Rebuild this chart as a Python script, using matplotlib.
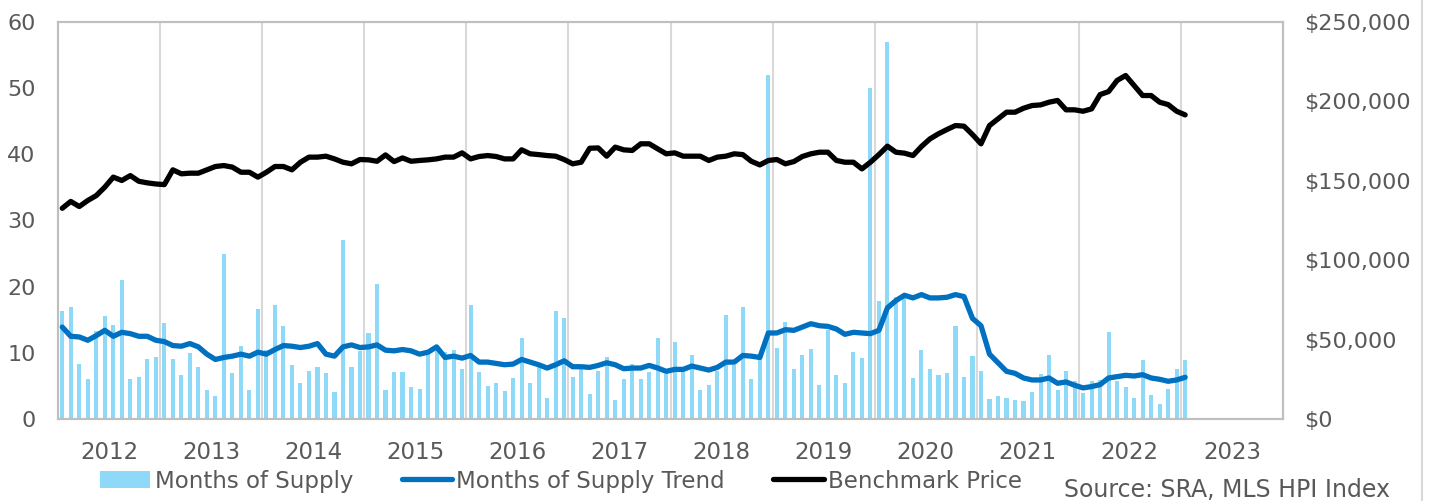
import numpy as np
import pandas as pd
import matplotlib
matplotlib.use("Agg")
import matplotlib.pyplot as plt
from matplotlib.lines import Line2D
from matplotlib.ticker import FuncFormatter

# monthly data, Jan 2012 .. Jan 2023
months = pd.date_range("2012-01-01", "2023-01-01", freq="MS")
year_labels = [str(y) for y in range(2012, 2024)]

supply = [16.3, 17.0, 8.3, 6.1, 13.3, 15.5, 14.2, 21.0, 6.1, 6.4, 9.0, 9.3,
          14.5, 9.1, 6.6, 9.9, 7.8, 4.4, 3.5, 24.9, 7.0, 11.0, 4.4, 16.6,
          10.5, 17.3, 14.0, 8.1, 5.4, 7.2, 7.8, 7.0, 4.1, 27.0, 7.8, 10.3,
          13.0, 20.4, 4.4, 7.1, 7.1, 4.8, 4.5, 9.8, 10.4, 10.1, 10.5, 7.6,
          17.3, 7.1, 5.0, 5.5, 4.3, 6.2, 12.3, 5.5, 8.1, 3.1, 16.3, 15.3,
          6.4, 7.8, 3.8, 7.3, 9.4, 2.8, 6.1, 8.3, 6.0, 7.1, 12.2, 6.8,
          11.7, 7.1, 9.7, 4.4, 5.2, 7.3, 15.7, 8.2, 17.0, 6.1, 9.8, 52.0,
          10.7, 14.6, 7.6, 9.6, 10.6, 5.2, 13.5, 6.7, 5.5, 10.1, 9.2, 50.0,
          17.9, 57.0, 18.5, 18.4, 6.2, 10.5, 7.5, 6.6, 7.0, 14.1, 6.3, 9.5,
          7.2, 3.0, 3.5, 3.1, 2.9, 2.7, 4.1, 6.8, 9.7, 4.4, 7.3, 5.8,
          3.9, 5.7, 5.9, 13.2, 5.7, 4.8, 3.2, 8.9, 3.6, 2.2, 4.6, 7.6,
          8.9]

trend = [13.9, 12.5, 12.4, 11.9, 12.6, 13.4, 12.5, 13.1, 12.9, 12.5, 12.5, 11.9,
         11.7, 11.1, 11.0, 11.4, 10.9, 9.8, 9.0, 9.3, 9.5, 9.8, 9.5, 10.1,
         9.8, 10.5, 11.1, 11.0, 10.8, 11.0, 11.4, 9.8, 9.5, 10.9, 11.2, 10.8,
         10.9, 11.2, 10.4, 10.3, 10.5, 10.3, 9.8, 10.1, 10.9, 9.3, 9.5, 9.2,
         9.6, 8.6, 8.6, 8.4, 8.2, 8.3, 9.0, 8.6, 8.2, 7.7, 8.2, 8.8,
         7.9, 7.9, 7.8, 8.1, 8.5, 8.2, 7.6, 7.7, 7.7, 8.1, 7.7, 7.2,
         7.5, 7.5, 8.0, 7.7, 7.4, 7.8, 8.6, 8.6, 9.6, 9.5, 9.3, 13.0,
         13.0, 13.5, 13.4, 13.9, 14.4, 14.1, 14.0, 13.6, 12.8, 13.1, 13.0, 12.9,
         13.4, 16.8, 17.9, 18.7, 18.3, 18.8, 18.3, 18.3, 18.4, 18.8, 18.5, 15.2,
         14.1, 9.8, 8.5, 7.2, 6.9, 6.2, 5.9, 5.9, 6.2, 5.4, 5.6, 5.1,
         4.7, 4.9, 5.2, 6.2, 6.4, 6.6, 6.5, 6.7, 6.2, 6.0, 5.7, 5.9,
         6.3]

price = [132700, 137000, 133800, 137600, 140700, 146000, 152300, 150200, 153300, 149700, 148700, 148000,
         147600, 156900, 154400, 154800, 154800, 156900, 159000, 159600, 158600, 155400, 155400, 152300,
         155400, 159000, 159000, 156900, 161700, 164900, 164900, 165500, 163800, 161700, 160700, 163400,
         163200, 162300, 166300, 162100, 164400, 162300, 162800, 163200, 163800, 164900, 164900, 167600,
         163800, 165300, 165900, 165300, 163800, 163800, 169500, 167000, 166500, 165900, 165500, 163400,
         160700, 161700, 170500, 170700, 165500, 171200, 169500, 169100, 173300, 173300, 170100, 167000,
         167600, 165500, 165500, 165500, 162800, 164900, 165500, 167000, 166500, 162300, 160000, 162800,
         163400, 160700, 162100, 165300, 167000, 168000, 168000, 162800, 161700, 161700, 157500, 161700,
         166500, 171800, 168000, 167400, 165900, 171600, 176400, 179600, 182300, 184800, 184400, 179100,
         173300, 184800, 189000, 193200, 193200, 195700, 197400, 197800, 199500, 200600, 194700, 194700,
         193800, 195300, 204300, 206200, 213200, 216300, 210000, 203700, 203700, 199500, 198000, 193800,
         191500]

text_col = "#595959"
plt.rcParams["font.family"] = ["DejaVu Sans"]

fig = plt.figure(figsize=(14.3, 5.01), dpi=100)
ax = fig.add_axes([58 / 1430, 1 - 419 / 501, (1283 - 58) / 1430, (419 - 22) / 501])
ax2 = ax.twinx()

x = np.arange(len(months))
bars = ax.bar(x, supply, width=0.48, color="#8ED8F8", zorder=2, label="Months of Supply")
trend_line, = ax.plot(x, trend, color="#0070C0", lw=3.8, solid_capstyle="round", zorder=3,
                      label="Months of Supply Trend")
price_line, = ax2.plot(x, price, color="black", lw=3.8, solid_capstyle="round",
                       label="Benchmark Price")

ax.set_xlim(-0.5, 143.5)
ax.set_ylim(0, 60)
ax2.set_ylim(0, 250000)
ax.set_yticks(range(0, 61, 10))
ax2.set_yticks(range(0, 250001, 50000))
ax2.yaxis.set_major_formatter(FuncFormatter(lambda v, p: f"${v:,.0f}"))

# year boundaries as gridlines, labels centred in each year
ax.set_xticks(np.arange(11.5, 143, 12))
ax.set_xticklabels([])
ax.set_xticks(np.arange(5.5, 144, 12), minor=True)
ax.set_xticklabels(year_labels, minor=True)
ax.grid(axis="x", which="major", color="#D9D9D9", lw=1.5, zorder=0)
ax.set_axisbelow(True)

ax.tick_params(axis="x", which="both", length=0, labelsize=16.5, labelcolor=text_col, pad=16)
ax.tick_params(axis="y", length=0, labelsize=16, labelcolor=text_col, pad=16)
ax2.tick_params(axis="y", length=0, labelsize=16, labelcolor=text_col, pad=15)

for a in (ax, ax2):
    for s in a.spines.values():
        s.set_color("#BFBFBF")
        s.set_linewidth(1.5)

fig.legend([bars, trend_line, price_line],
           ["Months of Supply", "Months of Supply Trend", "Benchmark Price"],
           loc="center left", bbox_to_anchor=(100 / 1430, 1 - 481 / 501),
           ncol=3, frameon=False, fontsize=16.5, labelcolor=text_col, handlelength=2.2,
           handletextpad=0.2, columnspacing=2.1, borderpad=0, borderaxespad=0)

fig.text(1390 / 1430, 1 - 490 / 501, "Source: SRA, MLS HPI Index", ha="right", va="center",
         fontsize=17, color=text_col)

fig.add_artist(Line2D([1422 / 1430, 1422 / 1430], [0, 1], transform=fig.transFigure,
                      color="#D9D9D9", lw=1.5))

fig.savefig("out.png", dpi=100)
